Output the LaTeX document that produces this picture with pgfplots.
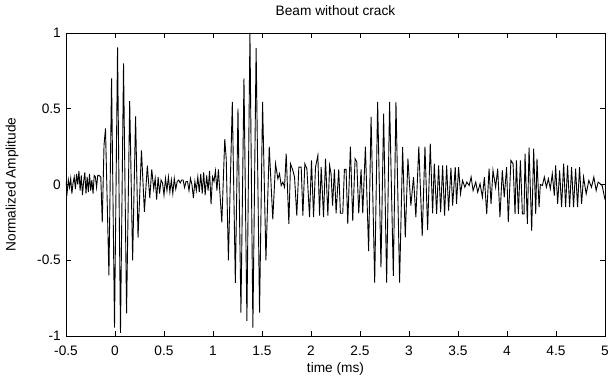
\documentclass[border=0pt]{standalone}
\usepackage{fontspec}
\setmainfont{Liberation Sans}
\usepackage{pgfplots}
\pgfplotsset{compat=1.18}
\begin{document}
\fontsize{13.7}{16}\selectfont
\begin{tikzpicture}[x=1pt,y=1pt]
\useasboundingbox (-66pt,-42pt) rectangle (544pt,336pt);
\begin{axis}[
  at={(0pt,0pt)}, anchor=south west,
  scale only axis, width=539pt, height=303pt,
  xmin=-0.5, xmax=5, ymin=-1, ymax=1,
  xtick={-0.5,0,0.5,1,1.5,2,2.5,3,3.5,4,4.5,5},
  xticklabels={-0.5,0,0.5,1,1.5,2,2.5,3,3.5,4,4.5,5},
  ytick={-1,-0.5,0,0.5,1},
  yticklabels={-1,-0.5,0,0.5,1},
  tick align=inside, major tick length=5pt, tick pos=both,
  xticklabel pos=lower, yticklabel pos=left,
  axis line style={line width=0.8pt},
  tick style={line width=0.6pt, black},
  xticklabel style={inner sep=0pt, anchor=north, yshift=-10pt, font=\fontsize{13.7}{16}\selectfont},
  yticklabel style={inner sep=0pt, anchor=east, xshift=-5pt, font=\fontsize{13.7}{16}\selectfont},
  title={Beam without crack},
  title style={at={(axis description cs:0.5,1)}, anchor=base, inner sep=0pt, yshift=11.5pt, font=\fontsize{13.7}{16}\selectfont},
  xlabel={time (ms)},
  xlabel style={at={(axis description cs:0.5,0)}, anchor=base, inner sep=0pt, yshift=-36pt, font=\fontsize{13.7}{16}\selectfont},
  ylabel={Normalized Amplitude},
  ylabel style={at={(axis description cs:-0.1002,0.5)}, anchor=center, inner sep=0pt, font=\fontsize{13.7}{16}\selectfont},
]
\addplot[black, line width=0.9pt, mark=none] coordinates {
(-0.500,0.02) (-0.488,-0.05) (-0.476,0.03) (-0.464,-0.02) (-0.452,0.04) (-0.440,-0.06)
(-0.428,0.01) (-0.416,0.05) (-0.404,-0.03) (-0.392,0.07) (-0.380,0.00) (-0.368,0.09)
(-0.356,-0.04) (-0.344,0.06) (-0.332,-0.07) (-0.320,0.02) (-0.308,0.08) (-0.296,-0.06)
(-0.284,0.05) (-0.272,-0.05) (-0.260,0.07) (-0.248,-0.04) (-0.236,0.03) (-0.224,-0.06)
(-0.212,0.06) (-0.200,0.05) (-0.188,-0.02) (-0.176,0.06) (-0.164,0.06)
(-0.145,0.05) (-0.130,-0.25) (-0.112,0.26) (-0.097,0.37) (-0.062,-0.60) (-0.035,0.70)
(-0.005,-0.945) (0.026,0.905) (0.056,-0.98) (0.087,0.80) (0.118,-0.85) (0.150,0.55)
(0.180,-0.50) (0.210,0.45) (0.235,-0.35) (0.270,0.225) (0.300,-0.18) (0.330,0.125)
(0.355,-0.09) (0.375,0.10) (0.395,-0.03)
(0.410,0.04) (0.425,-0.10) (0.440,0.05) (0.455,-0.06) (0.470,0.03) (0.485,0.01)
(0.500,-0.07) (0.515,0.04) (0.530,-0.04) (0.545,0.05) (0.560,-0.05) (0.575,0.03)
(0.590,-0.06) (0.605,0.04) (0.620,-0.03) (0.635,0.02) (0.650,0.03) (0.665,0.01)
(0.680,0.03) (0.695,0.03) (0.710,-0.02) (0.725,0.02) (0.740,0.02) (0.755,-0.04)
(0.770,0.04) (0.785,0.00) (0.800,-0.09) (0.815,0.02) (0.830,-0.04) (0.845,0.05)
(0.860,-0.05) (0.875,0.07) (0.890,-0.06) (0.905,0.08) (0.920,-0.07) (0.935,0.06)
(0.950,-0.04) (0.965,0.09) (0.980,-0.13) (0.995,0.05) (1.010,0.02) (1.025,0.09)
(1.040,-0.04) (1.055,0.10)
(1.090,-0.25) (1.120,0.30) (1.135,0.17) (1.157,-0.50) (1.197,0.545) (1.228,-0.65)
(1.255,0.50) (1.285,-0.846) (1.316,0.70) (1.346,-0.90) (1.377,1.0) (1.407,-0.945)
(1.440,0.90) (1.475,-0.846) (1.506,0.545) (1.540,-0.50) (1.574,0.25) (1.610,-0.23)
(1.638,0.137) (1.662,0.038) (1.679,0.071) (1.696,-0.007) (1.713,0.016) (1.730,-0.018)
(1.747,0.203) (1.774,-0.26) (1.791,0.137) (1.815,0.093) (1.832,0.049) (1.855,-0.205)
(1.876,0.115) (1.900,0.115) (1.917,-0.205) (1.937,0.137) (1.958,0.104) (1.985,-0.216)
(2.005,0.159) (2.026,-0.216) (2.046,0.115) (2.070,0.192) (2.087,-0.205) (2.104,0.115)
(2.128,-0.216) (2.148,0.170) (2.172,-0.205) (2.190,0.126)
(2.205,0.07) (2.220,-0.14) (2.239,0.10) (2.256,-0.19) (2.283,0.10) (2.300,-0.19)
(2.324,-0.19) (2.341,0.10) (2.358,0.10) (2.375,-0.26) (2.402,0.25) (2.426,-0.24)
(2.450,0.17) (2.467,0.15) (2.487,-0.19) (2.511,0.10) (2.528,-0.19)
(2.555,0.25) (2.588,-0.44) (2.613,0.446) (2.650,-0.647) (2.680,0.545) (2.714,-0.547)
(2.741,0.468) (2.772,-0.647) (2.802,0.545) (2.840,-0.603) (2.867,0.545) (2.904,-0.647)
(2.935,0.247) (2.962,-0.349) (2.989,0.170) (3.019,-0.139) (3.046,0.049) (3.070,-0.216)
(3.100,0.25) (3.135,-0.34) (3.163,0.25) (3.190,-0.30) (3.217,0.27) (3.241,-0.19)
(3.258,0.137) (3.282,-0.194) (3.302,0.126) (3.323,-0.183) (3.343,0.126) (3.363,-0.205)
(3.384,0.126) (3.404,-0.172) (3.428,0.110) (3.445,-0.139) (3.472,0.115) (3.485,-0.128)
(3.506,0.115) (3.526,-0.062) (3.546,0.027) (3.570,-0.018) (3.590,0.016) (3.614,-0.007)
(3.634,0.049) (3.654,-0.040) (3.681,0.016) (3.701,-0.051) (3.725,0.005) (3.749,-0.084)
(3.769,0.049) (3.793,-0.194) (3.817,0.104) (3.837,-0.128) (3.857,0.093) (3.884,-0.018)
(3.905,0.104) (3.928,-0.216) (3.952,0.093) (3.972,-0.084) (3.996,0.115) (4.013,-0.247)
(4.040,0.159) (4.062,0.137) (4.082,-0.194) (4.096,0.159) (4.116,-0.194) (4.137,0.159)
(4.157,-0.194) (4.174,-0.194) (4.184,0.203) (4.208,-0.260) (4.225,0.243) (4.252,-0.305)
(4.272,0.236) (4.293,-0.194) (4.306,0.170) (4.327,-0.150) (4.340,0.000)
(4.361,-0.007) (4.381,0.049) (4.402,-0.018) (4.422,0.038) (4.442,-0.029) (4.462,0.071)
(4.483,-0.073) (4.496,0.126) (4.517,-0.128) (4.537,0.093) (4.557,-0.150) (4.578,0.137)
(4.598,-0.150) (4.618,0.126) (4.639,-0.150) (4.659,0.115) (4.679,-0.150) (4.700,0.104)
(4.720,-0.150) (4.740,0.115) (4.761,-0.128) (4.781,0.049) (4.808,-0.062) (4.835,0.027)
(4.862,-0.018) (4.886,0.049) (4.910,-0.040) (4.930,0.016) (4.950,0.005) (4.971,-0.007)
(5.000,-0.10)
};
\end{axis}
\end{tikzpicture}
\end{document}
